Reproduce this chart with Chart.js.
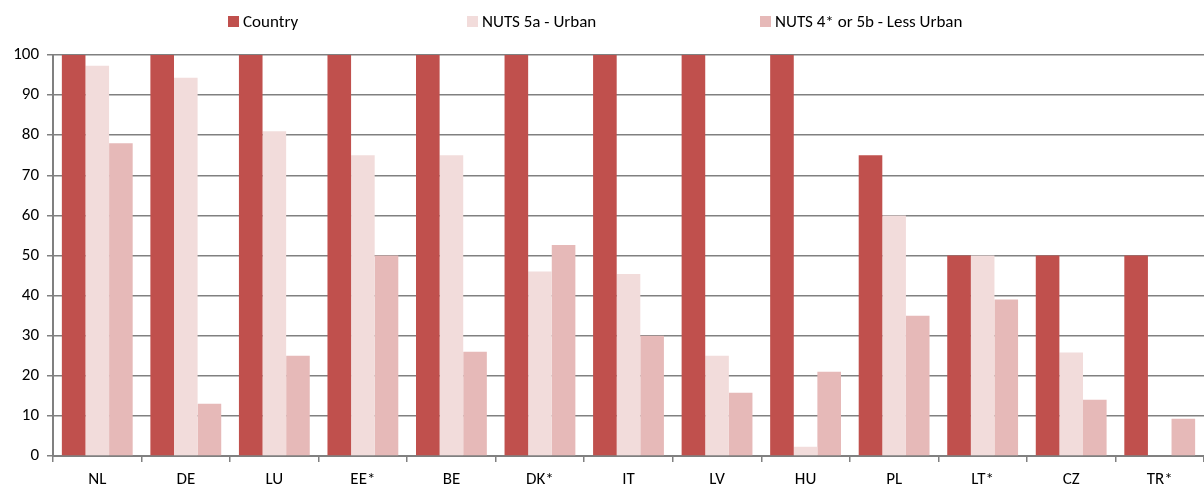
<!DOCTYPE html>
<html>
<head>
<meta charset="utf-8">
<script src="https://cdn.jsdelivr.net/npm/chart.js@4.4.1/dist/chart.umd.min.js"></script>
<style>
    html, body { margin: 0; padding: 0; background: #fff; }
    #wrap { position: relative; width: 1204px; height: 494px; }
    #legend { position: absolute; top: 11px; left: 0; width: 1204px; height: 20px;
        font-family: Carlito, "Liberation Sans Narrow", "Liberation Sans", sans-serif; font-size: 17px; color: #000; }
    .item { position: absolute; top: 0; display: flex; align-items: center; height: 20px; white-space: nowrap; }
    .box { width: 11px; height: 11px; margin-right: 4px; }
</style>
</head>
<body>
<div id="wrap">
    <canvas id="chart" width="1204" height="494"></canvas>
    <div id="legend"></div>
</div>
<script>
    const countries = ["NL", "DE", "LU", "EE*", "BE", "DK*", "IT", "LV", "HU", "PL", "LT*", "CZ", "TR*"];
    const countryValues = [100, 100, 100, 100, 100, 100, 100, 100, 100, 75, 50, 50, 50];
    const urbanValues = [97.3, 94.3, 81, 75, 75, 46, 45.4, 25, 2.3, 60, 50, 25.8, 0];
    const lessUrbanValues = [78, 13, 25, 50, 26, 52.6, 30, 15.8, 21, 35, 39, 14, 9.3];

    const seriesNames = ["Country", "NUTS 5a - Urban", "NUTS 4* or 5b - Less Urban"];
    const seriesColors = ["#C0504D", "#F2DCDB", "#E6B9B8"];
    const legendLeft = [228, 467, 760];

    const fontFamily = 'Carlito, "Liberation Sans Narrow", "Liberation Sans", sans-serif';

    // legend sits in html so the items can be spread out across the top
    const legend = document.getElementById("legend");
    seriesNames.forEach((name, i) => {
        const item = document.createElement("div");
        item.className = "item";
        item.style.left = legendLeft[i] + "px";
        item.innerHTML = `<span class="box" style="background:${seriesColors[i]}"></span>${name}`;
        legend.appendChild(item);
    });

    const values = [countryValues, urbanValues, lessUrbanValues];

    new Chart(document.getElementById("chart"), {
        type: "bar",
        data: {
            labels: countries,
            datasets: values.map((data, i) => ({
                label: seriesNames[i],
                data: data,
                backgroundColor: seriesColors[i],
                borderWidth: 0,
                categoryPercentage: 0.8,
                barPercentage: 1.0
            }))
        },
        options: {
            responsive: false,
            animation: false,
            layout: { padding: { top: 55, right: 0, bottom: 0, left: 0 } },
            plugins: {
                legend: { display: false },
                tooltip: { enabled: false }
            },
            scales: {
                x: {
                    afterFit: scale => { scale.height = 38; },
                    grid: { offset: true, drawOnChartArea: false, drawTicks: true, tickLength: 6, color: "#808080", lineWidth: 1.5 },
                    border: { color: "#808080", width: 2 },
                    ticks: { color: "#000", font: { family: fontFamily, size: 17 }, padding: 8 }
                },
                y: {
                    min: 0,
                    max: 100,
                    afterFit: scale => { scale.width = 53; },
                    grid: { color: "#808080", lineWidth: 1.5, tickLength: 6 },
                    border: { color: "#808080", width: 2 },
                    ticks: { stepSize: 10, color: "#000", font: { family: fontFamily, size: 17 }, padding: 8 }
                }
            }
        }
    });
</script>
</body>
</html>
